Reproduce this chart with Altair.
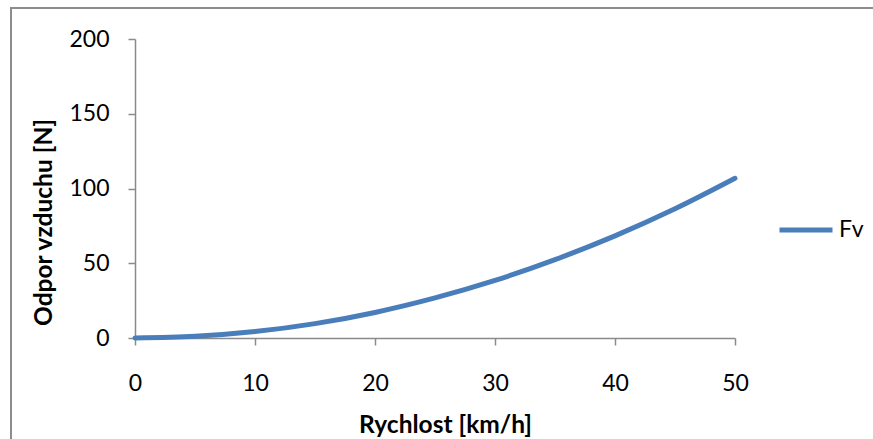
import altair as alt
import pandas as pd

# Air resistance vs. speed
speed = [0, 5, 10, 15, 20, 25, 30, 35, 40, 45, 50]
drag = [0, 1.1, 4.3, 9.6, 17.1, 26.8, 38.5, 52.4, 68.3, 86.4, 106.8]
series = ["Fv"] * len(speed)

df = pd.DataFrame({"speed": speed, "drag": drag, "series": series})

FONT = "Lato"
AXIS_GREY = "#8a8a8a"
LINE_BLUE = "#4a7ebb"

# outer chart frame
frame = alt.Chart(pd.DataFrame({"k": [0]})).mark_rect(
    fill=None, stroke="#8c8c8c", strokeWidth=2
).encode(
    x=alt.value(-124), x2=alt.value(746),
    y=alt.value(-31), y2=alt.value(420),
)

line = alt.Chart(df).mark_line(
    strokeWidth=5, strokeCap="round", strokeJoin="round", interpolate="monotone"
).encode(
    x=alt.X(
        "speed:Q",
        scale=alt.Scale(domain=[0, 50], nice=False),
        axis=alt.Axis(
            title="Rychlost [km/h]",
            values=[0, 10, 20, 30, 40, 50],
            grid=False,
            domainColor=AXIS_GREY, domainWidth=1.5,
            tickColor=AXIS_GREY, tickWidth=1.5, tickSize=7,
            labelFont=FONT, labelFontSize=23, labelColor="#000000",
            labelBaseline="middle", labelPadding=38, labelFlush=False,
            titleFont=FONT, titleFontSize=24.5, titleFontWeight="bold", titleColor="#000000",
            titleX=310, titleY=87, titleBaseline="middle", titleAlign="center",
        ),
    ),
    y=alt.Y(
        "drag:Q",
        scale=alt.Scale(domain=[0, 200], nice=False),
        axis=alt.Axis(
            title="Odpor vzduchu [N]",
            values=[0, 50, 100, 150, 200],
            grid=False,
            domainColor=AXIS_GREY, domainWidth=1.5,
            tickColor=AXIS_GREY, tickWidth=1.5, tickSize=7,
            labelFont=FONT, labelFontSize=23, labelColor="#000000",
            labelPadding=19, labelFlush=False,
            titleFont=FONT, titleFontSize=24.5, titleFontWeight="bold", titleColor="#000000",
            titleX=-91, titleY=183, titleAngle=270,
            titleBaseline="middle", titleAlign="center",
        ),
    ),
    color=alt.Color(
        "series:N",
        scale=alt.Scale(domain=["Fv"], range=[LINE_BLUE]),
        legend=alt.Legend(
            title=None,
            orient="none", legendX=642, legendY=162,
            symbolType="stroke", symbolStrokeWidth=5, symbolSize=2809,
            labelFont=FONT, labelFontSize=23, labelColor="#000000",
            labelOffset=4,
        ),
    ),
)

chart = alt.layer(frame, line).properties(
    width=600, height=299,
    padding={"left": 135, "top": 39, "right": 138, "bottom": 101},
    autosize=alt.AutoSizeParams(type="none"),
    background="#ffffff",
).configure_view(stroke=None)

chart.save("out.html", embed_options={"renderer": "svg", "actions": False})
